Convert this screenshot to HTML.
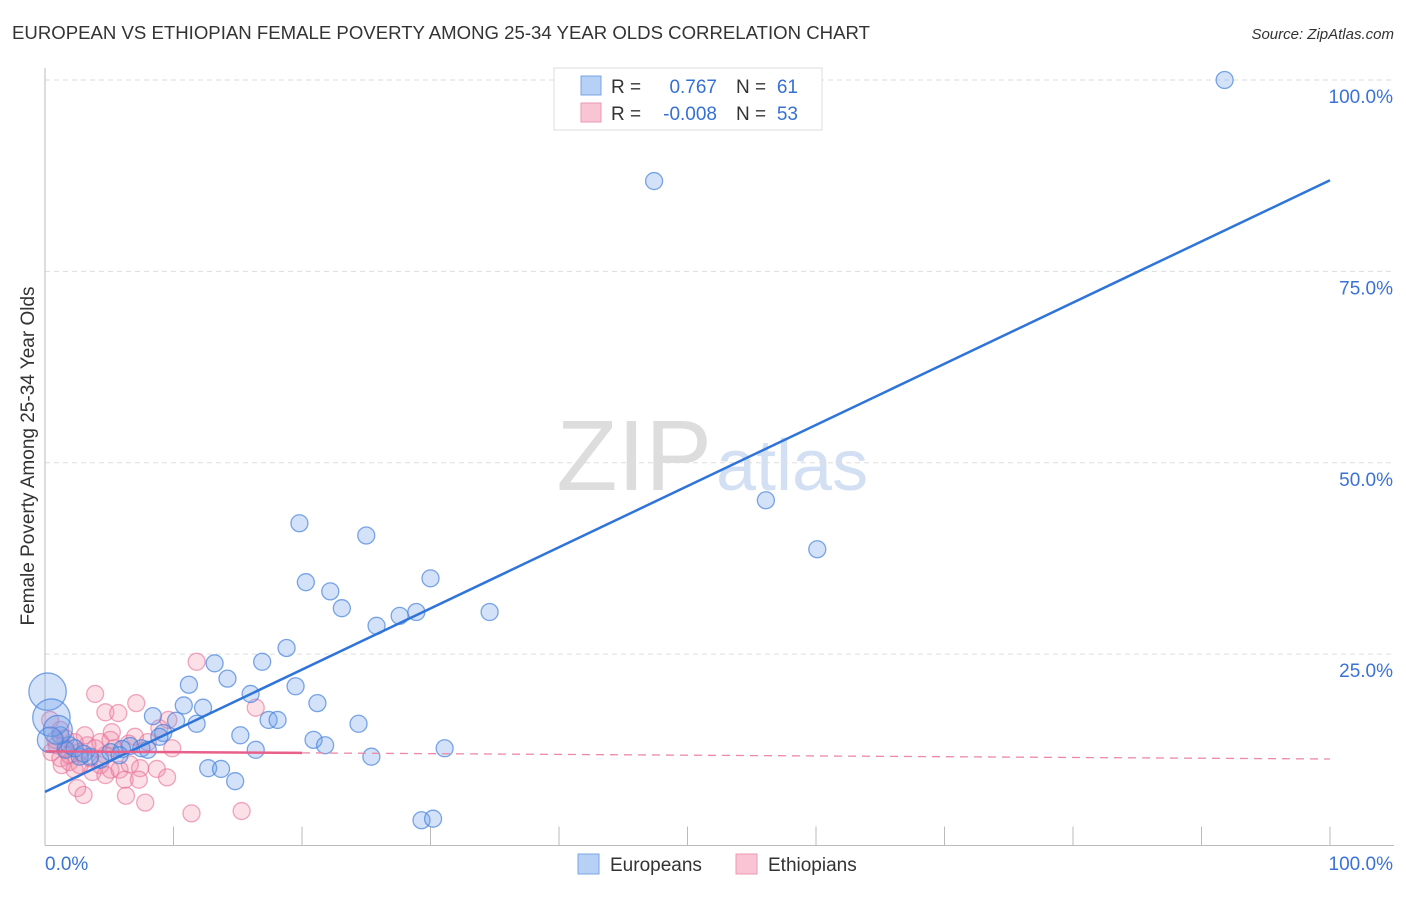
<!DOCTYPE html>
<html><head><meta charset="utf-8"><style>
body{margin:0;background:#fff;font-family:"Liberation Sans",sans-serif;}
svg text{font-family:"Liberation Sans",sans-serif;}
</style></head><body>
<svg id="chart" width="1406" height="892" xmlns="http://www.w3.org/2000/svg">
<text x="12" y="39" font-size="18.6" fill="#333">EUROPEAN VS ETHIOPIAN FEMALE POVERTY AMONG 25-34 YEAR OLDS CORRELATION CHART</text>
<text x="1394" y="39" font-size="15" fill="#333" font-style="italic" text-anchor="end">Source: ZipAtlas.com</text>
<text transform="translate(34,456) rotate(-90)" font-size="19" fill="#333" text-anchor="middle">Female Poverty Among 25-34 Year Olds</text>
<text x="712" y="490" font-size="100" fill="#ddd" text-anchor="end" font-family="Liberation Serif">ZIP</text>
<text x="716" y="490" font-size="72" fill="#d3e0f3">atlas</text>
<g id="grid"></g><g id="axes"></g><g id="pink"></g><g id="blue"></g><g id="lines"></g>
<g>
<rect x="554" y="68" width="268" height="62" fill="#fff" stroke="#ddd"/>
<rect x="581" y="76" width="20" height="19" fill="#b7d0f5" stroke="#7aa6e6"/>
<rect x="581" y="103" width="20" height="19" fill="#f9c4d3" stroke="#ec9ab3"/>
<text x="611" y="93" font-size="19" fill="#333">R =</text>
<text x="717" y="93" font-size="19" fill="#3570d4" text-anchor="end">0.767</text>
<text x="736" y="93" font-size="19" fill="#333">N =</text>
<text x="798" y="93" font-size="19" fill="#3570d4" text-anchor="end">61</text>
<text x="611" y="120" font-size="19" fill="#333">R =</text>
<text x="717" y="120" font-size="19" fill="#3570d4" text-anchor="end">-0.008</text>
<text x="736" y="120" font-size="19" fill="#333">N =</text>
<text x="798" y="120" font-size="19" fill="#3570d4" text-anchor="end">53</text>
</g>
<g>
<rect x="578" y="854" width="21" height="20" fill="#b7d0f5" stroke="#7aa6e6"/>
<text x="610" y="871" font-size="19" fill="#333">Europeans</text>
<rect x="736" y="854" width="21" height="20" fill="#f9c4d3" stroke="#ec9ab3"/>
<text x="768" y="871" font-size="19" fill="#333">Ethiopians</text>
</g>
</svg>
<script>
const yTicks=[25,50,75,100];
const yTickLabels=["25.0%","50.0%","75.0%","100.0%"];
const xTickVals=[10,20,30,40,50,60,70,80,90,100];
const blueX=[91.8,47.4,56.1,60.1,19.8,25.0,20.3,22.2,30.0,23.1,25.8,27.6,28.9,34.6,18.8,16.9,13.2,14.2,11.2,19.5,16.0,10.8,12.3,21.2,8.4,10.2,11.8,17.4,18.1,24.4,15.2,9.2,20.9,21.8,31.1,25.4,16.4,12.7,13.7,14.8,29.3,30.2,7.5,6.6,6.0,8.0,5.1,4.3,3.5,2.7,1.9,1.2,8.9,5.8,1.6,2.3,0.2,0.5,1.0,0.4,3.0];
const blueY=[100.0,86.8,45.1,38.7,42.1,40.5,34.4,33.2,34.9,31.0,28.7,30.0,30.5,30.5,25.8,24.0,23.8,21.8,21.0,20.8,19.8,18.3,18.0,18.6,16.9,16.3,15.9,16.4,16.4,15.9,14.4,14.7,13.8,13.1,12.7,11.6,12.5,10.1,10.0,8.4,3.3,3.5,12.7,13.0,12.6,12.5,12.2,11.2,11.6,11.6,13.1,14.4,14.2,11.8,12.5,12.7,20.1,16.7,15.1,13.8,12.0];
const blueSize=[1,1,1,1,1,1,1,1,1,1,1,1,1,1,1,1,1,1,1,1,1,1,1,1,1,1,1,1,1,1,1,1,1,1,1,1,1,1,1,1,1,1,1,1,1,1,1,1,1,1,1,1,1,1,1,1,2.2,2.2,1.7,1.5,1];
const pinkX=[11.8,3.9,7.1,4.7,5.7,16.4,9.6,8.9,7.0,5.2,6.5,4.3,3.3,2.3,1.6,0.9,0.5,1.2,1.9,2.7,3.5,4.3,5.1,5.8,6.6,7.4,6.2,3.7,8.7,9.5,4.7,2.5,3.0,6.3,7.3,7.8,11.4,15.3,9.9,1.2,0.4,0.8,1.6,3.1,3.9,4.7,5.4,8.0,1.9,2.7,1.3,2.3,5.1];
const pinkY=[24.0,19.8,18.6,17.4,17.3,18.0,16.4,15.3,14.2,14.8,13.3,13.5,13.1,13.5,12.7,13.1,12.2,11.4,10.9,12.2,11.4,10.5,9.9,9.9,10.6,10.1,8.6,9.6,10.0,8.9,9.2,7.5,6.6,6.5,8.6,5.6,4.2,4.5,12.7,15.1,16.4,13.8,14.0,14.4,12.7,11.8,12.7,13.5,11.8,10.5,10.5,9.9,13.8];
const blueLine=[7.0,86.9];
const pinkLine=[12.3,11.3];
const pinkSolidEnd=20;
const X0=45,X1=1330,Y0=845.5,Y100=80;
const sx=v=>X0+(X1-X0)*v/100;
const sy=v=>Y0+(Y100-Y0)*v/100;
const NS="http://www.w3.org/2000/svg";
function mk(parent,tag,attrs){const e=document.createElementNS(NS,tag);for(const k in attrs)e.setAttribute(k,attrs[k]);document.getElementById(parent).appendChild(e);return e;}
yTicks.forEach((t,i)=>{
  const g=mk('grid','line',{x1:X0,x2:1394,y1:sy(t),y2:sy(t),stroke:'#ddd','stroke-dasharray':'5,4'});
  
  
  const l=mk('grid','text',{x:1393,y:sy(t)+23,'font-size':19,fill:'#3a72d6','text-anchor':'end'});
  l.textContent=yTickLabels[i];
  
  
});
let ax=mk('axes','line',{x1:X0,x2:X0,y1:68,y2:Y0,stroke:'#bbb'});


ax=mk('axes','line',{x1:X0,x2:1394,y1:Y0,y2:Y0,stroke:'#bbb'});


xTickVals.forEach(t=>{
  const e=mk('axes','line',{x1:sx(t),x2:sx(t),y1:Y0-19,y2:Y0,stroke:'#bbb'});
  
  
});
let xl=mk('axes','text',{x:45,y:870,'font-size':19,fill:'#3a72d6'});xl.textContent='0.0%';


xl=mk('axes','text',{x:1393,y:870,'font-size':19,fill:'#3a72d6','text-anchor':'end'});xl.textContent='100.0%';


pinkX.forEach((x,i)=>{
  const c=mk('pink','circle',{cx:sx(x),cy:sy(pinkY[i]),r:8.5,fill:'rgba(240,130,165,0.25)',stroke:'rgba(232,110,150,0.6)','stroke-width':1.3});
  
  
});
blueX.forEach((x,i)=>{
  const c=mk('blue','circle',{cx:sx(x),cy:sy(blueY[i]),r:8.5*blueSize[i],fill:'rgba(110,160,235,0.3)',stroke:'rgba(70,130,220,0.7)','stroke-width':1.3});
  
  
});
let ln=mk('lines','line',{x1:sx(0),y1:sy(blueLine[0]),x2:sx(100),y2:sy(blueLine[1]),stroke:'#2f74d8','stroke-width':2.5});


const pAt=x=>pinkLine[0]+(pinkLine[1]-pinkLine[0])*x/100;
ln=mk('lines','line',{x1:sx(0),y1:sy(pAt(0)),x2:sx(pinkSolidEnd),y2:sy(pAt(pinkSolidEnd)),stroke:'#e8608a','stroke-width':2.5});


ln=mk('lines','line',{x1:sx(pinkSolidEnd),y1:sy(pAt(pinkSolidEnd)),x2:sx(100),y2:sy(pAt(100)),stroke:'#ec8aa8','stroke-width':1.3,'stroke-dasharray':'8,6'});


</script>
</body></html>
